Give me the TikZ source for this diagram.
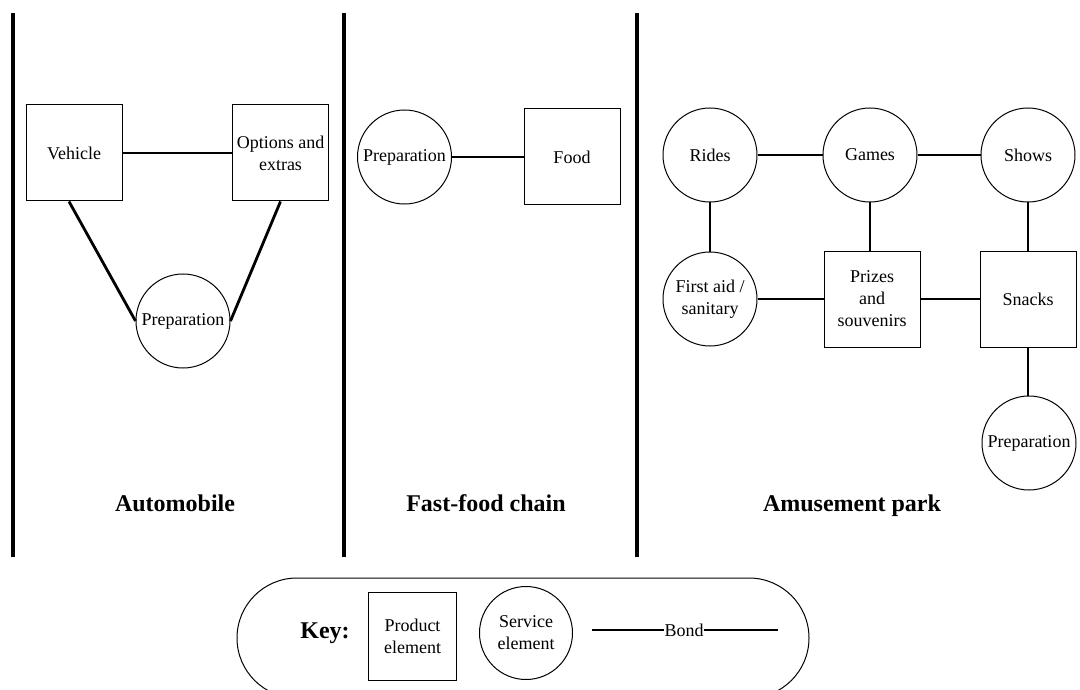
\documentclass[tikz,border=0pt]{standalone}
\usepackage{fontspec}
\setmainfont{Liberation Serif}
\begin{document}
\begin{tikzpicture}[x=1pt,y=-1pt,
  every node/.style={font=\fontsize{18}{22}\selectfont, align=center},
  product/.style={draw, line width=1pt, minimum width=96pt, minimum height=96pt, inner sep=0pt},
  service/.style={draw, circle, line width=1pt, minimum size=94pt, inner sep=0pt},
  bond/.style={line width=2.8pt},
  divider/.style={line width=3.4pt},
  title/.style={font=\fontsize{24}{28}\selectfont\bfseries, anchor=base}]
\useasboundingbox (0,0) rectangle (1080,690);
\clip (0,0) rectangle (1080,690);

% panel dividers
\coordinate (d1t) at (13,13);  \coordinate (d1b) at (13,557);
\coordinate (d2t) at (344,13); \coordinate (d2b) at (344,557);
\coordinate (d3t) at (637,13); \coordinate (d3b) at (637,557);
\draw[divider] (d1t) -- (d1b);
\draw[divider] (d2t) -- (d2b);
\draw[divider] (d3t) -- (d3b);

% Automobile
\node[product] (veh) at (74,153) {Vehicle};
\node[product] (opt) at (280.5,153) {Options and\\extras};
\node[service] (aprep) at (183,321) {Preparation};
\draw[bond] (veh) -- (opt);
\draw[bond] ([xshift=-5pt]veh.south) -- (aprep.west);
\draw[bond] (opt.south) -- (aprep.east);
\node[title] (tauto) at (175,511) {Automobile};

% Fast-food chain
\node[service] (fprep) at (404.5,157) {Preparation};
\node[product] (food) at (572,157) {Food};
\draw[bond] (fprep) -- (food);
\node[title] (tfood) at (486,511) {Fast-food chain};

% Amusement park
\node[service] (rides) at (710,155) {Rides};
\node[service] (games) at (870,155) {Games};
\node[service] (shows) at (1028,155) {Shows};
\node[service] (first) at (710,299) {First aid /\\sanitary};
\node[product] (prizes) at (872,299) {Prizes\\and\\souvenirs};
\node[product] (snacks) at (1028,299) {Snacks};
\node[service] (pprep) at (1029,443) {Preparation};
\draw[bond] (rides) -- (games);
\draw[bond] (games) -- (shows);
\draw[bond] (rides) -- (first);
\draw[bond] (games.south) -- (games.south |- prizes.north);
\draw[bond] (shows) -- (snacks);
\draw[bond] (first) -- (prizes);
\draw[bond] (prizes) -- (snacks);
\draw[bond] (snacks.south) -- (snacks.south |- pprep.north);
\node[title] (tpark) at (852,511) {Amusement park};

% Key
\node[draw, line width=1pt, rounded corners=60pt, minimum width=572pt, minimum height=120pt] (keybox) at (523,638) {};
\node[font=\fontsize{24}{28}\selectfont\bfseries] (keylabel) at (325,633) {Key:};
\node[product, minimum width=88pt, minimum height=88pt] (kprod) at (412.5,636) {Product\\element};
\node[service, minimum size=93pt] (kserv) at (526,633) {Service\\element};
\coordinate (kb1) at (592,630);
\coordinate (kb2) at (778,630);
\node[inner sep=0.5pt] (kbond) at (684,630) {Bond};
\draw[bond] (kb1) -- (kbond) -- (kb2);
\end{tikzpicture}
\end{document}
